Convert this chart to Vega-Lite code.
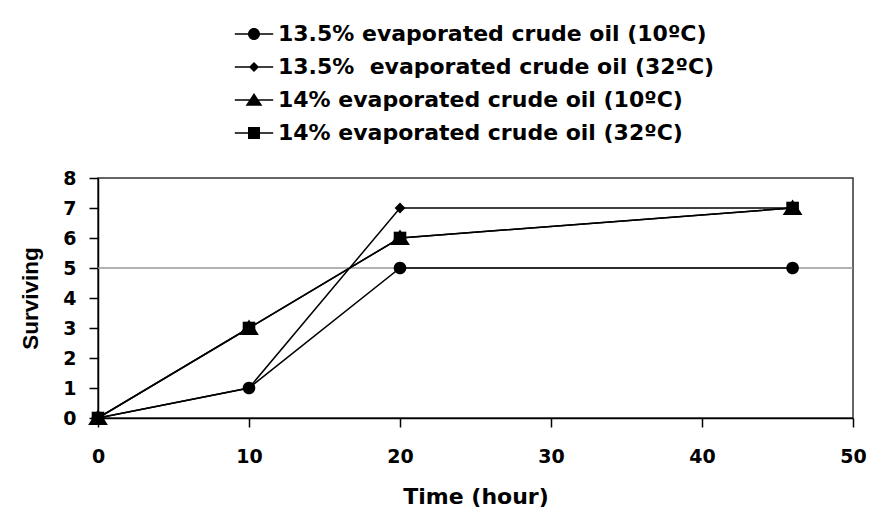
{
  "$schema": "https://vega.github.io/schema/vega-lite/v6.json",
  "width": 755,
  "height": 240,
  "autosize": "none",
  "padding": {"left": 98, "top": 178, "right": 26, "bottom": 99},
  "background": "white",
  "config": {
    "view": {"stroke": "#333", "strokeWidth": 1.5},
    "font": "DejaVu Sans",
    "axis": {
      "grid": false,
      "domainColor": "black",
      "domainWidth": 1.5,
      "tickColor": "black",
      "tickWidth": 1.5,
      "tickSize": 9,
      "labelFont": "DejaVu Sans",
      "labelFontWeight": "bold",
      "labelFontSize": 19,
      "labelColor": "black",
      "labelOverlap": false,
      "labelFlush": false,
      "titleFont": "DejaVu Sans",
      "titleFontWeight": "bold",
      "titleFontSize": 22,
      "titleColor": "black"
    }
  },
  "datasets": {
    "series": [
      {"series": "13.5% evaporated crude oil (10ºC)", "time": 0, "surviving": 0},
      {"series": "13.5% evaporated crude oil (10ºC)", "time": 10, "surviving": 1},
      {"series": "13.5% evaporated crude oil (10ºC)", "time": 20, "surviving": 5},
      {"series": "13.5% evaporated crude oil (10ºC)", "time": 46, "surviving": 5},
      {"series": "13.5%\u00a0 evaporated crude oil (32ºC)", "time": 0, "surviving": 0},
      {"series": "13.5%\u00a0 evaporated crude oil (32ºC)", "time": 10, "surviving": 1},
      {"series": "13.5%\u00a0 evaporated crude oil (32ºC)", "time": 20, "surviving": 7},
      {"series": "13.5%\u00a0 evaporated crude oil (32ºC)", "time": 46, "surviving": 7},
      {"series": "14% evaporated crude oil (10ºC)", "time": 0, "surviving": 0},
      {"series": "14% evaporated crude oil (10ºC)", "time": 10, "surviving": 3},
      {"series": "14% evaporated crude oil (10ºC)", "time": 20, "surviving": 6},
      {"series": "14% evaporated crude oil (10ºC)", "time": 46, "surviving": 7},
      {"series": "14% evaporated crude oil (32ºC)", "time": 0, "surviving": 0},
      {"series": "14% evaporated crude oil (32ºC)", "time": 10, "surviving": 3},
      {"series": "14% evaporated crude oil (32ºC)", "time": 20, "surviving": 6},
      {"series": "14% evaporated crude oil (32ºC)", "time": 46, "surviving": 7}
    ],
    "ref": [{"level": 5}]
  },
  "resolve": {"scale": {"shape": "independent"}, "legend": {"shape": "independent"}},
  "layer": [
    {
      "data": {"name": "ref"},
      "mark": {"type": "rule", "color": "#999999", "strokeWidth": 1.5},
      "encoding": {
        "y": {
          "field": "level", "type": "quantitative",
          "scale": {"domain": [0, 8], "nice": false},
          "axis": {"values": [0, 1, 2, 3, 4, 5, 6, 7, 8], "title": "Surviving", "labelPadding": 13, "titlePadding": 20, "titleFont": "Liberation Sans", "titleFontSize": 22.5}
        }
      }
    },
    {
      "data": {"name": "series"},
      "mark": {"type": "line", "color": "black", "strokeWidth": 1.5},
      "encoding": {
        "x": {
          "field": "time", "type": "quantitative",
          "scale": {"domain": [0, 50], "nice": false, "zero": true},
          "axis": {"values": [0, 10, 20, 30, 40, 50], "title": "Time (hour)", "labelPadding": 20, "titlePadding": 20}
        },
        "y": {
          "field": "surviving", "type": "quantitative",
          "axis": {"values": [0, 1, 2, 3, 4, 5, 6, 7, 8], "title": "Surviving", "labelPadding": 13, "titlePadding": 20, "titleFont": "Liberation Sans", "titleFontSize": 22.5}
        },
        "detail": {"field": "series", "type": "nominal"}
      }
    },
    {
      "data": {"name": "series"},
      "mark": {"type": "point", "filled": true, "color": "black", "opacity": 1, "size": 36, "strokeWidth": 0},
      "encoding": {
        "x": {
          "field": "time", "type": "quantitative",
          "axis": {"values": [0, 10, 20, 30, 40, 50], "title": "Time (hour)", "labelPadding": 20, "titlePadding": 20}
        },
        "y": {
          "field": "surviving", "type": "quantitative",
          "axis": {"values": [0, 1, 2, 3, 4, 5, 6, 7, 8], "title": "Surviving", "labelPadding": 13, "titlePadding": 20, "titleFont": "Liberation Sans", "titleFontSize": 22.5}
        },
        "shape": {
          "field": "series", "type": "nominal",
          "scale": {
            "domain": ["13.5% evaporated crude oil (10ºC)", "13.5%\u00a0 evaporated crude oil (32ºC)", "14% evaporated crude oil (10ºC)", "14% evaporated crude oil (32ºC)"],
            "range": [
              "M-2.1,0A2.1,2.1 0 1,1 2.1,0A2.1,2.1 0 1,1 -2.1,0Z",
              "M-1.8,0L0,-1.8L1.8,0L0,1.8Z",
              "M0,-2.8L3.3,2.3L-3.3,2.3Z",
              "M-2.1,-2.1H2.1V2.1H-2.1Z"
            ]
          },
          "legend": null
        }
      }
    },
    {
      "data": {"name": "series"},
      "transform": [{"filter": "datum.time < 0"}],
      "mark": {"type": "point", "filled": true, "color": "black", "opacity": 1, "size": 576},
      "encoding": {
        "x": {
          "field": "time", "type": "quantitative",
          "axis": {"values": [0, 10, 20, 30, 40, 50], "title": "Time (hour)", "labelPadding": 20, "titlePadding": 20}
        },
        "y": {
          "field": "surviving", "type": "quantitative",
          "axis": {"values": [0, 1, 2, 3, 4, 5, 6, 7, 8], "title": "Surviving", "labelPadding": 13, "titlePadding": 20, "titleFont": "Liberation Sans", "titleFontSize": 22.5}
        },
        "shape": {
          "field": "series", "type": "nominal",
          "scale": {
            "domain": ["13.5% evaporated crude oil (10ºC)", "13.5%\u00a0 evaporated crude oil (32ºC)", "14% evaporated crude oil (10ºC)", "14% evaporated crude oil (32ºC)"],
            "range": [
              "M-1.6,-0.06H1.6V0.06H-1.6ZM-0.5,0A0.5,0.5 0 1,1 0.5,0A0.5,0.5 0 1,1 -0.5,0Z",
              "M-1.6,-0.06H1.6V0.06H-1.6ZM-0.42,0L0,-0.42L0.42,0L0,0.42Z",
              "M-1.6,-0.06H1.6V0.06H-1.6ZM0,-0.58L0.7,0.48L-0.7,0.48Z",
              "M-1.6,-0.06H1.6V0.06H-1.6ZM-0.5,-0.5H0.5V0.5H-0.5Z"
            ]
          },
          "legend": {
            "title": null,
            "orient": "none",
            "legendX": 143,
            "legendY": -157,
            "padding": 0,
            "symbolSize": 576,
            "symbolFillColor": "black",
            "symbolOpacity": 1,
            "labelFont": "DejaVu Sans",
            "labelFontWeight": "bold",
            "labelFontSize": 22,
            "labelColor": "black",
            "labelOffset": 11,
            "labelLimit": 600,
            "rowPadding": 9
          }
        }
      }
    }
  ]
}
